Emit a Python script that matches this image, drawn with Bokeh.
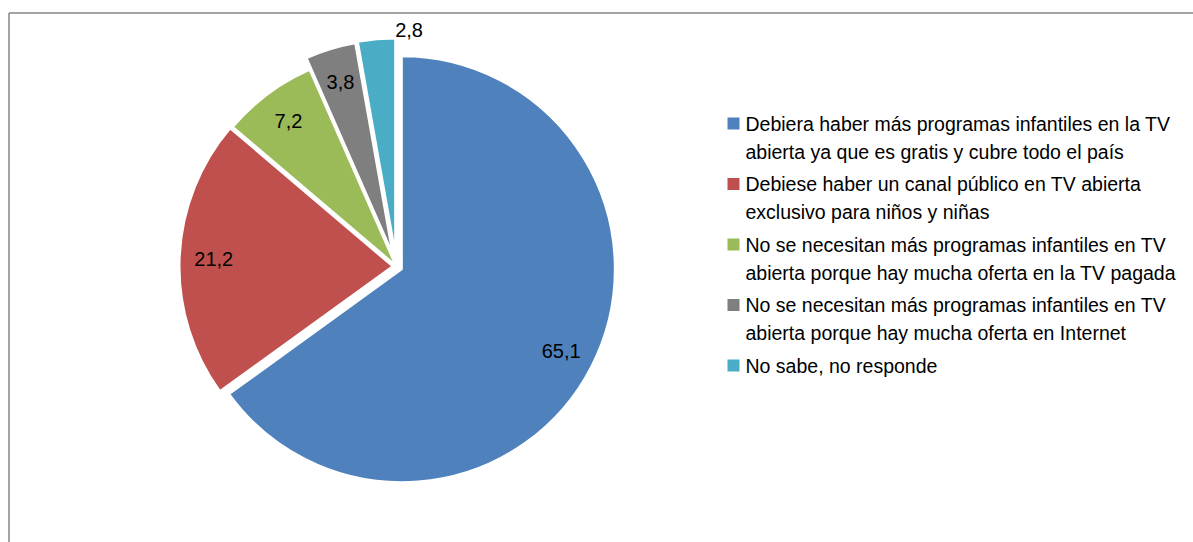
import numpy as np
from bokeh.plotting import figure
from bokeh.models import Range1d, ColumnDataSource
from bokeh.core.properties import value
from bokeh.embed import file_html
from bokeh.resources import INLINE

# ---------------- data ----------------
categories = [
    "Debiera haber más programas infantiles en la TV\nabierta ya que es gratis y cubre todo el país",
    "Debiese haber un canal público en TV abierta\nexclusivo para niños y niñas",
    "No se necesitan más programas infantiles en TV\nabierta porque hay mucha oferta en la TV pagada",
    "No se necesitan más programas infantiles en TV\nabierta porque hay mucha oferta en Internet",
    "No sabe, no responde",
]
values = [65.1, 21.2, 7.2, 3.8, 2.8]
value_labels = ["65,1", "21,2", "7,2", "3,8", "2,8"]
colors = ["#4F81BD", "#C0504D", "#9BBB59", "#7F7F7F", "#4BACC6"]

# ---------------- layout / style ----------------
W, H = 1193, 542
FONT = "Liberation Sans"
CX, CY = 396, H - 266      # pie centre (page px, y up)
R = 213
explode = [6, 4, 2, 14, 15]
label_r = 0.84

p = figure(width=W, height=H, output_backend="svg", toolbar_location=None,
           x_range=Range1d(0, W), y_range=Range1d(0, H), min_border=0)
p.axis.visible = False
p.grid.visible = False
p.outline_line_color = None
p.background_fill_color = "white"
p.border_fill_color = "white"

# frame of the chart area (clipped at right / bottom)
p.segment(x0=[8.5, 8.5], y0=[H - 12.5, H - 12.5], x1=[W, 8.5], y1=[H - 12.5, 0],
          line_color="#868686", line_width=1.5)

vals = np.array(values, dtype=float)
frac = vals / vals.sum()
cum_end = np.cumsum(frac) * 2 * np.pi
cum_start = cum_end - frac * 2 * np.pi
mid = (cum_start + cum_end) / 2
ex = np.array(explode, dtype=float)
xs = CX + ex * np.sin(mid)
ys = CY + ex * np.cos(mid)

src = ColumnDataSource(dict(
    x=xs, y=ys,
    start=np.pi / 2 - cum_end, end=np.pi / 2 - cum_start,
    color=colors,
))
p.wedge(x="x", y="y", radius=R, start_angle="start", end_angle="end",
        fill_color="color", line_color="white", line_width=2, source=src)

# data labels
lx, ly, la = [], [], []
for i in range(len(values)):
    if i < len(values) - 1:
        lx.append(xs[i] + R * label_r * np.sin(mid[i]))
        ly.append(ys[i] + R * label_r * np.cos(mid[i]))
        la.append("center")
    else:
        lx.append(xs[i] + R * 1.04 * np.sin(cum_end[i]))
        ly.append(ys[i] + R * 1.04 * np.cos(cum_end[i]))
        la.append("left")
p.text(x=lx, y=ly, text=value_labels, text_align=la, text_baseline="middle",
       text_font=value(FONT), text_font_size="20px", text_color="black")

# legend
sq_x, sq_y, sq_c = [], [], []
tx, ty, tt = [], [], []
line_h, gap = 28, 4.5
yscreen = 123
for i, cat in enumerate(categories):
    lines = cat.split("\n")
    sq_x.append(733); sq_y.append(H - yscreen); sq_c.append(colors[i])
    for j, ln in enumerate(lines):
        tx.append(745); ty.append(H - (yscreen + j * line_h)); tt.append(ln)
    yscreen += len(lines) * line_h + gap
p.rect(x=sq_x, y=sq_y, width=12, height=12, fill_color=sq_c, line_color=None)
p.text(x=tx, y=ty, text=tt, text_align="left", text_baseline="middle",
       text_font=value(FONT), text_font_size="19.5px", text_color="black")

open("out.html", "w").write(file_html(p, INLINE))
